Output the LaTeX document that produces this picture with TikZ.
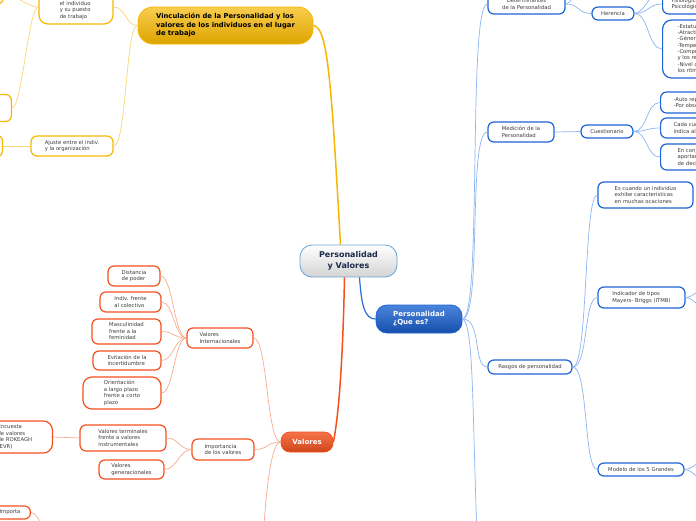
\documentclass[tikz,border=0pt]{standalone}
\usepackage{fontspec}
\setmainfont{DejaVu Sans}
\usepackage{tikz}

\definecolor{txtgray}{HTML}{3C3C3C}
\definecolor{navy}{HTML}{1B2A4A}
\definecolor{bluebd}{HTML}{1C63D6}
\definecolor{bluelk}{HTML}{8DB6F2}
\definecolor{bluemain}{HTML}{2A6FD6}
\definecolor{redbd}{HTML}{F4511E}
\definecolor{redlk}{HTML}{F8AD90}
\definecolor{yelbd}{HTML}{F6B700}
\definecolor{yellk}{HTML}{FAD67A}
\definecolor{cenbd}{HTML}{6FA8DC}

\begin{document}
\begin{tikzpicture}[x=1pt,y=-1pt,
    box/.style={draw,fill=white,line width=1.2pt,rounded corners=6pt,inner sep=0pt,
      text=txtgray,align=left,font=\fontsize{5.3}{6.5}\selectfont},
    boxb/.style={box,draw=bluebd},
    boxr/.style={box,draw=redbd},
    boxy/.style={box,draw=yelbd},
    wh/.style 2 args={minimum width=#1pt,minimum height=#2pt},
    linkb/.style={draw=bluelk,line width=0.7pt},
    linkr/.style={draw=redlk,line width=0.7pt},
    linky/.style={draw=yellk,line width=0.7pt}]
  \useasboundingbox (0,0) rectangle (696,520);
  \fill[white] (0,0) rectangle (696,520);
  \clip (0,0) rectangle (696,520);

  % main topics
  \node[draw=cenbd,line width=0.9pt,rounded corners=12pt,top color=white,bottom color=black!17,
    text=navy,font=\fontsize{8}{11}\selectfont\bfseries,align=center,wh={97}{32}] (cen) at (348.5,261) {Personalidad\\ y Valores};
  \node[draw=bluebd,line width=0.8pt,rounded corners=11pt,top color=bluemain!85!white,bottom color=bluebd!80!black,
    text=white,font=\fontsize{7}{8}\selectfont\bfseries,align=left,wh={86}{28}] (que) at (419,319) {Personalidad\\¿Que es?};
  \node[draw=redbd,line width=0.8pt,rounded corners=9pt,top color=redbd!80!white,bottom color=redbd!85!black,
    text=white,font=\fontsize{7}{8}\selectfont\bfseries,wh={52}{20}] (val) at (307,442) {Valores};
  \node[draw=yelbd,line width=0.8pt,rounded corners=15pt,top color=yelbd!70!white,bottom color=yelbd!90!black,
    text=black,font=\fontsize{6.8}{8.5}\selectfont\bfseries,align=left,wh={175}{37}] (vinc) at (225.5,25.5) {Vinculación de la Personalidad y los\\valores de los individuos en el lugar\\de trabajo};

  \draw[bluemain,line width=1.2pt] ([xshift=11pt]cen.south) .. controls +(2,28) and +(-11,0) .. (que.west);
  \draw[redbd,line width=1.5pt] ([xshift=-4pt]cen.south) .. controls +(-2,100) and +(4,-20) .. (val.east);
  \draw[yelbd,line width=1.5pt] (vinc.east) .. controls +(15,1) and +(-9,-155) .. ([xshift=-8pt]cen.north);

  % Personalidad
  \node[boxb,align=center,wh={77}{20}] (det) at (526.5,4) {Determinantes\\ de la Personalidad};
  \node[boxb,wh={42}{13}] (her) at (613,13.5) {Herencia};
  \node[boxb,anchor=west,inner xsep=9pt,minimum height=20pt] (fis) at (662,4) {Fisiológico\\Psicológico};
  \node[boxb,rounded corners=9pt,anchor=west,inner xsep=15pt,minimum height=58pt,font=\fontsize{5.3}{6.3}\selectfont] (rasgf) at (662,49)
    {-Estatura\\-Atractivo facial\\-Género\\-Temperamento\\-Composición muscular\\y los reflejos\\-Nivel de energía y\\los ritmos biológicos};
  \node[boxb,wh={66}{20}] (med) at (521,132) {Medición de la\\Personalidad};
  \node[boxb,wh={52}{13}] (cue) at (607,131.5) {Cuestionario};
  \node[boxb,anchor=west,inner xsep=13pt,minimum height=21pt] (cue1) at (660,102.5) {-Auto reporte\\-Por observación};
  \node[boxb,anchor=west,inner xsep=13pt,minimum height=20pt] (cue2) at (660,128) {Cada cuestionario\\indica al individuo};
  \node[boxb,anchor=west,inner xsep=17pt,minimum height=26pt] (cue3) at (660,157) {En conjunto\\aportan\\de decisión};
  \node[boxb,wh={84}{14}] (rasg) at (530,367) {Rasgos de personalidad};
  \node[boxb,wh={95}{26}] (esc) at (645.5,195) {Es cuando un individuo\\exhibe características\\en muchas ocaciones};
  \node[boxb,wh={87}{21}] (ind) at (641.5,297.5) {Indicador de tipos\\Mayers- Briggs (ITMB)};
  \node[boxb,wh={86}{13}] (mod) at (641,469.5) {Modelo de los 5 Grandes};
  \coordinate (detup) at (590,-30);
  \coordinate (herup) at (665,-30);
  \coordinate (quedn) at (478,560);
  \coordinate (ind1) at (708,287);
  \coordinate (ind2) at (708,310);
  \coordinate (mod1) at (708,459);
  \coordinate (mod2) at (708,482);

  \draw[linkb] (que.east) .. controls +(20,0) and +(-20,0) .. (det.west);
  \draw[linkb] (que.east) .. controls +(20,0) and +(-20,0) .. (med.west);
  \draw[linkb] (que.east) .. controls +(20,0) and +(-15,0) .. (rasg.west);
  \draw[linkb] (que.east) .. controls +(12,3) and +(-6,-140) .. (quedn);
  \draw[linkb] (det.east) .. controls +(6,0) and +(-4,8) .. (detup);
  \draw[linkb] (det.east) .. controls +(14,0) and +(-14,0) .. (her.west);
  \draw[linkb] (her.east) .. controls +(10,0) and +(-6,12) .. (herup);
  \draw[linkb] (her.east) .. controls +(14,0) and +(-14,0) .. (fis.west);
  \draw[linkb] (her.east) .. controls +(14,0) and +(-14,0) .. (rasgf.west);
  \draw[linkb] (med.east) -- (cue.west);
  \draw[linkb] (cue.east) .. controls +(14,0) and +(-14,0) .. (cue1.west);
  \draw[linkb] (cue.east) .. controls +(14,0) and +(-14,0) .. (cue2.west);
  \draw[linkb] (cue.east) .. controls +(14,0) and +(-14,0) .. (cue3.west);
  \draw[linkb] (rasg.east) .. controls +(16,0) and +(-14,0) .. (esc.west);
  \draw[linkb] (rasg.east) .. controls +(16,0) and +(-14,0) .. (ind.west);
  \draw[linkb] (rasg.east) .. controls +(16,0) and +(-14,0) .. (mod.west);
  \draw[linkb] (ind.east) .. controls +(8,0) and +(-8,0) .. (ind1);
  \draw[linkb] (ind.east) .. controls +(8,0) and +(-8,0) .. (ind2);
  \draw[linkb] (mod.east) .. controls +(8,0) and +(-8,0) .. (mod1);
  \draw[linkb] (mod.east) .. controls +(8,0) and +(-8,0) .. (mod2);

  % Valores
  \node[boxr,wh={66}{20}] (intl) at (220,338) {Valores\\Internacionales};
  \node[boxr,wh={52}{20}] (dist) at (134,276) {Distancia\\de poder};
  \node[boxr,wh={61}{20}] (indv) at (130.5,302) {Indiv. frente\\al colectivo};
  \node[boxr,wh={69}{25}] (masc) at (126.5,331.5) {Masculinidad\\frente a la\\feminidad};
  \node[boxr,wh={68}{19}] (evit) at (127,360.5) {Evitación de la\\incertidumbre};
  \node[boxr,rounded corners=9pt,wh={78}{32}] (orie) at (122,393) {Orientación\\a largo plazo\\frente a corto\\plazo};
  \node[boxr,wh={62}{21}] (impv) at (223,449.5) {Importancia\\de los valores};
  \node[boxr,wh={86}{26}] (term) at (123,438) {Valores terminales\\frente a valores\\instrumentales};
  \node[boxr,wh={65}{19}] (gen) at (131.5,469.5) {Valores\\generacionales};
  \node[boxr,rounded corners=9pt,anchor=east,wh={75}{32}] (enc) at (53,437) {Encuesta\\de valores\\de ROKEAGH\\(EVR)};
  \node[boxr,anchor=east,text width=40pt,align=right,inner xsep=10pt,minimum height=13pt] (impa) at (31,512.5) {Importa};
  \coordinate (valdn) at (262,560);
  \coordinate (impadn) at (55,545);

  \draw[linkr] (val.west) .. controls +(-14,0) and +(14,0) .. (intl.east);
  \draw[linkr] (val.west) .. controls +(-14,0) and +(14,0) .. (impv.east);
  \draw[linkr] (val.west) .. controls +(-12,0) and +(2,-40) .. (valdn);
  \foreach \leaf in {dist,indv,masc,evit,orie}
    \draw[linkr] (intl.west) .. controls +(-12,0) and +(12,0) .. (\leaf.east);
  \draw[linkr] (impv.west) .. controls +(-12,0) and +(12,0) .. (term.east);
  \draw[linkr] (impv.west) .. controls +(-12,0) and +(12,0) .. (gen.east);
  \draw[linkr] (term.west) -- (enc.east);
  \draw[linkr] (impadn) .. controls +(-10,0) and +(10,0) .. (impa.east);

  % Vinculacion
  \node[boxy,rounded corners=9pt,wh={74}{34}] (pue) at (76,7) {Ajuste entre\\el individuo\\y su puesto\\de trabajo};
  \node[boxy,wh={82}{20}] (ajo) at (72,146) {Ajuste entre el indiv.\\y la organización};
  \node[boxy,anchor=east,wh={60}{20}] (lb0) at (4,-6) {};
  \node[boxy,anchor=east,wh={60}{27}] (lb1) at (12,108) {};
  \node[boxy,anchor=east,wh={60}{22}] (lb2) at (3,146) {};

  \draw[linky] (vinc.west) .. controls +(-12,0) and +(12,0) .. (pue.east);
  \draw[linky] (vinc.west) .. controls +(-12,0) and +(13,0) .. (ajo.east);
  \draw[linky] (pue.west) .. controls +(-10,0) and +(10,0) .. (lb1.east);
  \draw[linky] (pue.west) .. controls +(-12,0) and +(12,0) .. (lb0.east);
  \draw[linky] (ajo.west) -- (lb2.east);
\end{tikzpicture}
\end{document}
